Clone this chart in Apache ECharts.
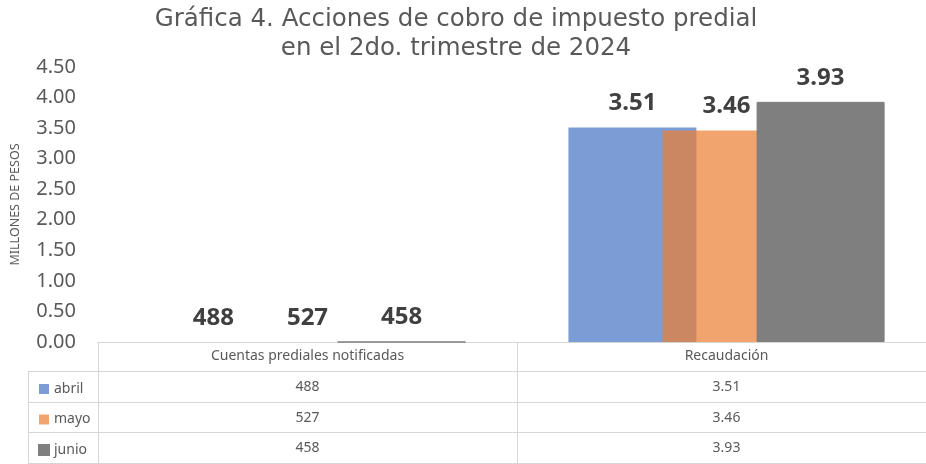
<!DOCTYPE html>
<html>
<head>
<meta charset="utf-8">
<script src="https://cdn.jsdelivr.net/npm/echarts@6/dist/echarts.min.js"></script>
<style>
  html, body { margin: 0; padding: 0; background: #fff; }
  #chart { width: 926px; height: 464px; }
</style>
</head>
<body>
<div id="chart"></div>
<script>
// datos de la gráfica
const categorias = ['Cuentas prediales notificadas', 'Recaudación']
const meses = ['abril', 'mayo', 'junio']
const cuentas = [488, 527, 458]          // unidades
const recaudacion = [3.51, 3.46, 3.93]   // millones de pesos
const colores = ['rgba(68,114,196,0.7)', 'rgba(237,125,49,0.7)', '#7f7f7f']
const FONT = 'Noto Sans'
const GRIS = '#595959'
const LINEA = '#d6d6d6'

// texto de cada celda de la tabla
function celda(i, j) {
  return j === 0 ? String(cuentas[i]) : recaudacion[i].toFixed(2)
}

let chart = echarts.init(document.getElementById('chart'), null, { renderer: 'canvas' })

// ejes x extra: sirven como filas de la tabla de datos
let ejesX = [{
  type: 'category',
  data: categorias,
  axisLine: { lineStyle: { color: LINEA, width: 1 } },
  axisTick: { show: true, length: 121, lineStyle: { color: LINEA } },
  axisLabel: { color: GRIS, fontSize: 14, fontFamily: FONT, margin: 7, interval: 0 }
}]
const offsets = [29, 60, 90, 121]
offsets.forEach((off, k) => {
  ejesX.push({
    type: 'category',
    data: categorias,
    position: 'bottom',
    offset: off,
    axisLine: { lineStyle: { color: LINEA, width: 1 } },
    axisTick: { show: false },
    axisLabel: {
      show: k < 3,
      color: GRIS, fontSize: 14, fontFamily: FONT, margin: 9, interval: 0,
      formatter: (v, j) => celda(k, j)
    }
  })
})

let series = meses.map((m, i) => ({
  name: m,
  type: 'bar',
  xAxisIndex: 0,
  // las cuentas son unidades, en la escala de millones quedan casi en cero
  data: [cuentas[i] / 1e6, recaudacion[i]],
  barWidth: 128,
  barGap: '-26.5%',
  itemStyle: {
    color: colores[i],
    borderColor: i === 2 ? '#7f7f7f' : 'transparent',
    borderWidth: i === 2 ? 1 : 0
  },
  label: {
    show: true,
    position: 'top',
    distance: 12,
    color: '#404040',
    fontSize: 24,
    fontWeight: 'bold',
    fontFamily: FONT,
    formatter: p => celda(i, p.dataIndex)
  }
}))

let option = {
  animation: false,
  backgroundColor: '#fff',
  title: {
    text: 'Gráfica 4. Acciones de cobro de impuesto predial\nen el 2do. trimestre de 2024',
    left: 451,
    top: 0,
    textAlign: 'center',
    textStyle: { color: GRIS, fontSize: 24.5, fontWeight: 'normal', fontFamily: 'DejaVu Sans', lineHeight: 29 }
  },
  legend: {
    data: meses,
    orient: 'vertical',
    left: 33,
    top: 377,
    selectedMode: false,
    icon: 'rect',
    itemWidth: 10,
    itemHeight: 10,
    itemGap: 16.5,
    textStyle: { color: GRIS, fontSize: 14, fontFamily: FONT, lineHeight: 14 }
  },
  grid: { left: 98, top: 67, width: 838, height: 275, outerBoundsMode: 'none' },
  xAxis: ejesX,
  yAxis: {
    type: 'value',
    min: 0,
    max: 4.5,
    interval: 0.5,
    name: 'MILLONES DE PESOS',
    nameLocation: 'middle',
    nameGap: 76,
    nameTextStyle: { color: GRIS, fontSize: 12.5, fontFamily: FONT },
    axisLine: { show: false },
    axisTick: { show: false },
    splitLine: { show: false },
    axisLabel: { color: GRIS, fontSize: 20, fontFamily: FONT, margin: 22, formatter: v => v.toFixed(2) }
  },
  // columna izquierda de la tabla (leyenda)
  graphic: [
    { type: 'line', shape: { x1: 28.5, y1: 371, x2: 28.5, y2: 463 }, style: { stroke: LINEA, lineWidth: 1 } },
    { type: 'line', shape: { x1: 28, y1: 371.5, x2: 98, y2: 371.5 }, style: { stroke: LINEA, lineWidth: 1 } },
    { type: 'line', shape: { x1: 28, y1: 402.5, x2: 98, y2: 402.5 }, style: { stroke: LINEA, lineWidth: 1 } },
    { type: 'line', shape: { x1: 28, y1: 432.5, x2: 98, y2: 432.5 }, style: { stroke: LINEA, lineWidth: 1 } },
    { type: 'line', shape: { x1: 28, y1: 463.5, x2: 98, y2: 463.5 }, style: { stroke: LINEA, lineWidth: 1 } }
  ],
  series: series
}
chart.setOption(option)
</script>
</body>
</html>
